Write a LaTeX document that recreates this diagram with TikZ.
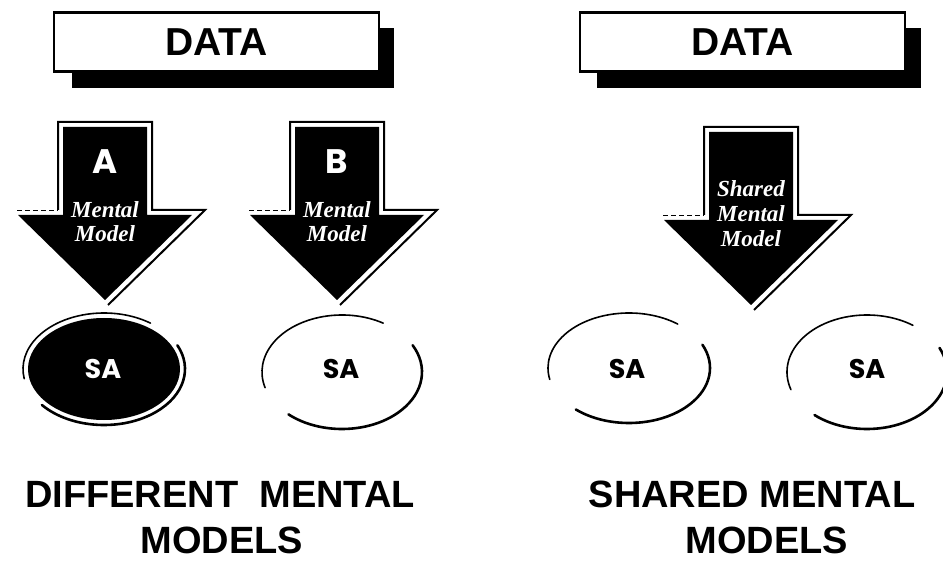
\documentclass[tikz,border=0pt]{standalone}
\usepackage{fontspec}
\newfontfamily\hel{Liberation Sans}
\newfontfamily\geo{Poppins}
\newfontfamily\mmserif{Liberation Serif}
\newcommand\mmArrow[2]{%
  \begin{scope}[shift={(#1,#2)}]
    \fill[black] (-42,0) -- (42,0) -- (42,88) -- (87,88) -- (0,173) -- (-87,88) -- (-42,88) -- cycle;
    \draw[arrowline] (-47,83) -- (-47,-5) -- (47,-5) -- (47,83) -- (100,83) -- (3,178);
    \draw[wingdash] (-88,83) -- (-47,83);
  \end{scope}}
\begin{document}
\begin{tikzpicture}[x=1pt,y=-1pt,
  databox/.style={draw=black, line width=2.2pt, fill=white, minimum width=325pt, minimum height=59pt, inner sep=0pt},
  datatext/.style={font=\hel\bfseries\fontsize{39}{39}\selectfont, anchor=base, inner sep=0pt},
  arrowline/.style={draw=black, line width=2pt, line join=miter},
  wingdash/.style={draw=black, line width=0.8pt, dash pattern=on 5pt off 3pt},
  letter/.style={font=\geo\bfseries\fontsize{34}{34}\selectfont, text=white, anchor=base, inner sep=0pt},
  mmtext/.style={font=\mmserif\bfseries\itshape\fontsize{23}{23}\selectfont, text=white, anchor=base, inner sep=0pt},
  satext/.style={font=\geo\bfseries\fontsize{27}{27}\selectfont, anchor=base, inner sep=0pt},
  salight/.style={draw=black, line width=1.6pt, line cap=round},
  saheavy/.style={draw=black, line width=2.6pt, line cap=round},
  title/.style={font=\hel\bfseries\fontsize{38}{38}\selectfont, anchor=base, inner sep=0pt}
]
\useasboundingbox (0,0) rectangle (943,569);

% DATA boxes with shadows
\fill[black] (72,28) rectangle (394,88);
\node[databox] (dataL) at (216.5,42) {};
\node[datatext] (dataLt) at (dataL.center |- 0,56) {DATA};
\fill[black] (597,28) rectangle (921,88);
\node[databox] (dataR) at (742.5,42) {};
\node[datatext] (dataRt) at (dataR.center |- 0,56) {DATA};

% Arrows
\mmArrow{105}{127}
\mmArrow{337}{127}
\mmArrow{751}{132}

\node[letter] (letA) at (105,174) {A};
\node[mmtext] (mA1) at (105,218) {Mental};
\node[mmtext] (mA2) at (105,242) {Model};
\node[letter] (letB) at (337,174) {B};
\node[mmtext] (mB1) at (337,218) {Mental};
\node[mmtext] (mB2) at (337,242) {Model};
\node[mmtext] (mS1) at (751,197) {Shared};
\node[mmtext] (mS2) at (751,222) {Mental};
\node[mmtext] (mS3) at (751,247) {Model};

% SA ellipses
\fill[black] (104,369) ellipse [x radius=76, y radius=51];
\draw[salight] (104,369) ++(-55:81 and 56) arc[start angle=-55, end angle=-190, x radius=81, y radius=56];
\draw[saheavy] (104,369) ++(-220:81 and 56) arc[start angle=-220, end angle=-385, x radius=81, y radius=56];
\node[satext, text=white] (saA) at (103,379) {SA};

\draw[salight] (342,372) ++(-59:80 and 57) arc[start angle=-59, end angle=-196, x radius=80, y radius=57];
\draw[saheavy] (342,372) ++(-228:80 and 57) arc[start angle=-228, end angle=-388, x radius=80, y radius=57];
\node[satext] (saB) at (341,379) {SA};

\draw[salight] (629,368) ++(-53:81 and 55) arc[start angle=-53, end angle=-192, x radius=81, y radius=55];
\draw[saheavy] (629,368) ++(-229:81 and 55) arc[start angle=-229, end angle=-385, x radius=81, y radius=55];
\node[satext] (saS1) at (627,379) {SA};

\draw[salight] (867,372) ++(-55:80 and 57) arc[start angle=-55, end angle=-198, x radius=80, y radius=57];
\draw[saheavy] (867,372) ++(-229:80 and 57) arc[start angle=-229, end angle=-385, x radius=80, y radius=57];
\node[satext] (saS2) at (867,379) {SA};

% Titles
\node[title] (tL1) at (220,507) {DIFFERENT\ \ MENTAL};
\node[title] (tL2) at (222,553) {MODELS};
\node[title] (tR1) at (752,507) {SHARED MENTAL};
\node[title] (tR2) at (767,553) {MODELS};
\end{tikzpicture}
\end{document}
